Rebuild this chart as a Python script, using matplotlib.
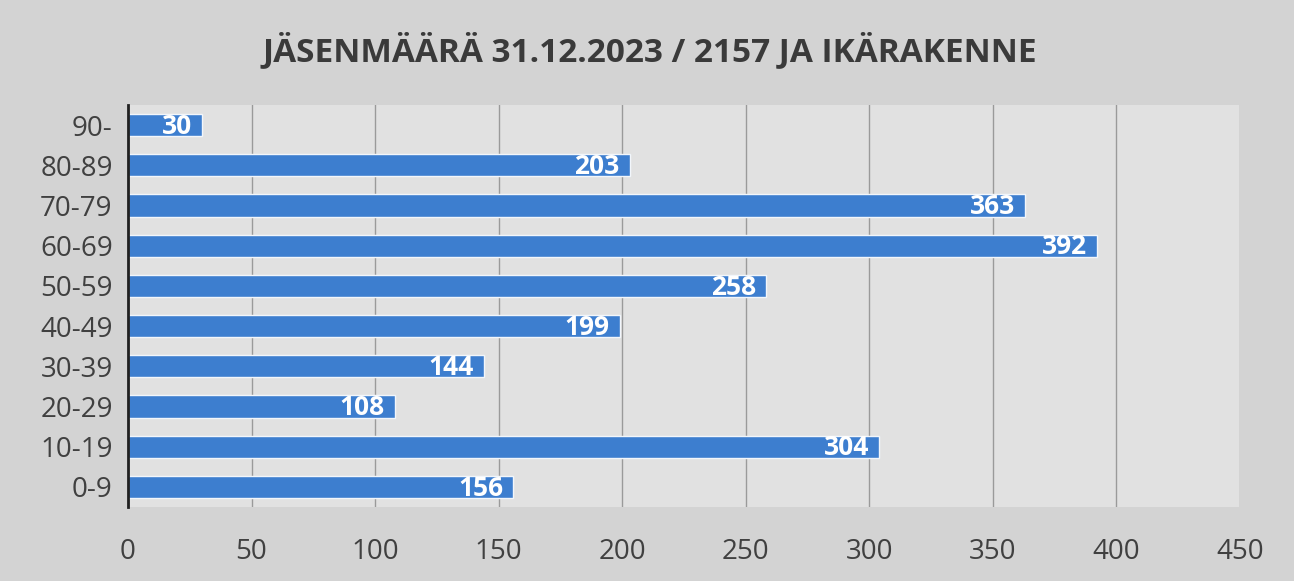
import matplotlib.pyplot as plt

# age groups, bottom to top
groups = ['0-9', '10-19', '20-29', '30-39', '40-49', '50-59', '60-69', '70-79', '80-89', '90-']
members = [156, 304, 108, 144, 199, 258, 392, 363, 203, 30]
xticks = [0, 50, 100, 150, 200, 250, 300, 350, 400, 450]

plt.rcParams['font.family'] = ['Open Sans', 'DejaVu Sans']

fig = plt.figure(figsize=(12.94, 5.81), dpi=100, facecolor='#d3d3d3')
ax = fig.add_axes([0.0989, 0.1274, 0.8594, 0.6919])
ax.set_facecolor('#e1e1e1')

ypos = range(len(groups))
ax.barh(ypos, members, height=0.55, color='#3d7ecf', edgecolor='#f2f6fb', linewidth=1.0, zorder=3)
for y, v in zip(ypos, members):
    ax.text(v - 4, y - 0.03, str(v), ha='right', va='center', color='white',
            fontsize=19, fontweight='bold', zorder=4)

ax.set_ylim(-0.5, len(groups) - 0.5)
ax.set_xlim(0, 450)
ax.set_yticks(list(ypos))
ax.set_yticklabels(groups, fontsize=20, color='#404040')
ax.set_xticks(xticks)
ax.set_xticklabels([str(t) for t in xticks], fontsize=20, color='#404040')
ax.tick_params(axis='y', length=0, pad=11)
ax.tick_params(axis='x', length=0, pad=22)
ax.grid(axis='x', color='#9a9a9a', linewidth=1.0, zorder=1)

for s in ['top', 'right', 'bottom']:
    ax.spines[s].set_visible(False)
ax.spines['left'].set_color('#202020')
ax.spines['left'].set_linewidth(2)
ax.spines['left'].set_zorder(5)

fig.text(0.502, 0.912, 'JÄSENMÄÄRÄ 31.12.2023 / 2157 JA IKÄRAKENNE', ha='center', va='center',
         fontsize=24, fontweight='bold', color='#3a3a3a')

fig.savefig('out.png', dpi=100, facecolor=fig.get_facecolor())
